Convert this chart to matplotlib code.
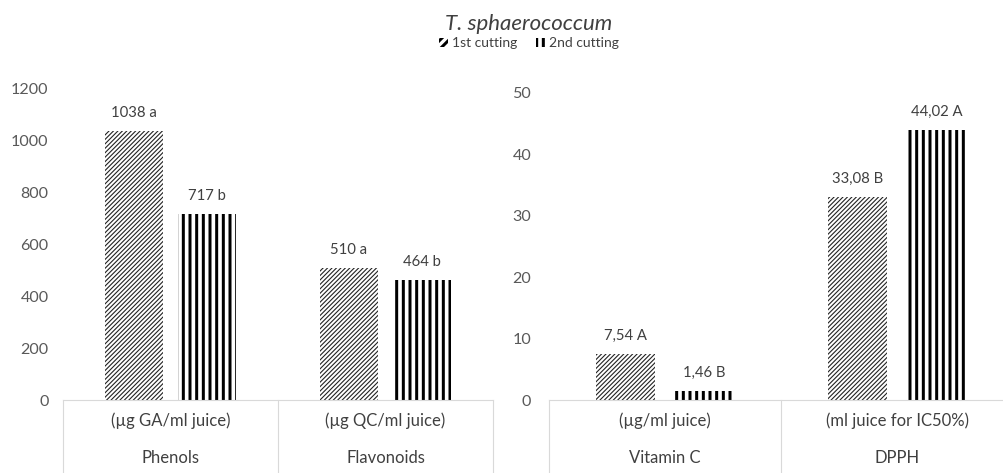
import matplotlib
matplotlib.use('Agg')
import matplotlib.pyplot as plt
import matplotlib.patches as mpatches
from matplotlib.transforms import blended_transform_factory

plt.rcParams['font.family'] = ['Lato', 'DejaVu Sans']

# phenols / flavonoids panel
left_units = ['(µg GA/ml juice)', '(µg QC/ml juice)']
left_names = ['Phenols', 'Flavonoids']
left_first = [1038, 510]
left_second = [717, 464]
left_first_letters = ['a', 'a']
left_second_letters = ['b', 'b']
left_ticks = [0, 200, 400, 600, 800, 1000, 1200]

# vitamin C / DPPH panel
right_units = ['(µg/ml juice)', '(ml juice for IC50%)']
right_names = ['Vitamin C', 'DPPH']
right_first = [7.54, 33.08]
right_second = [1.46, 44.02]
right_first_letters = ['A', 'B']
right_second_letters = ['B', 'A']
right_ticks = [0, 10, 20, 30, 40, 50]

series_names = ['1st cutting', '2nd cutting']

DPI = 80
W, H = 1003, 473
LINE = '#d9d9d9'
TICK = '#595959'
TEXT = '#404040'
HATCHES = ['//////', '||']
LEGEND_HATCHES = ['///', '||']
HATCH_LW = [1.0, 2.7]


def fmt_int(v):
    return '%d' % v


def fmt_comma(v):
    return ('%.2f' % v).replace('.', ',')


def style_bars(bars, k):
    for b in bars:
        b.set_hatch(HATCHES[k])
        try:
            b.set_hatch_linewidth(HATCH_LW[k])
        except AttributeError:
            pass


def draw_panel(ax, units, names, first, second, l1, l2, fmt, ticks, width, gap, pad):
    x = list(range(len(names)))
    off = (width + gap) / 2
    plt.rcParams['hatch.linewidth'] = HATCH_LW[0]
    b1 = ax.bar([i - off for i in x], first, width, facecolor='white',
                edgecolor='#222222', linewidth=0)
    style_bars(b1, 0)
    plt.rcParams['hatch.linewidth'] = HATCH_LW[1]
    b2 = ax.bar([i + off for i in x], second, width, facecolor='white',
                edgecolor='black', linewidth=0)
    style_bars(b2, 1)

    for bars, vals, letters in [(b1, first, l1), (b2, second, l2)]:
        for b, v, let in zip(bars, vals, letters):
            ax.annotate(fmt(v) + ' ' + let, (b.get_x() + b.get_width() / 2, v),
                        xytext=(0, 10), textcoords='offset points',
                        ha='center', va='bottom', fontsize=13.4, color=TEXT)

    ax.set_xlim(-0.5, len(names) - 0.5)
    ax.set_ylim(ticks[0], ticks[-1])
    ax.set_yticks(ticks)
    ax.set_xticks([])
    ax.tick_params(axis='y', length=0, pad=pad, labelsize=14.5, labelcolor=TICK)
    for s in ['top', 'right', 'left']:
        ax.spines[s].set_visible(False)
    ax.spines['bottom'].set_color(LINE)
    ax.spines['bottom'].set_linewidth(1)

    # category table under the axis
    pos = ax.get_position()
    drop = pos.y0 / pos.height
    tr = blended_transform_factory(ax.transData, ax.transAxes)
    for xb in [i - 0.5 for i in range(len(names) + 1)]:
        ax.plot([xb, xb], [0, -drop], transform=tr, color=LINE, lw=1,
                clip_on=False)
    for i in x:
        ax.annotate(units[i], (i, 0), xycoords=tr, xytext=(0, -19),
                    textcoords='offset points', ha='center', va='center',
                    fontsize=15, color=TEXT)
        ax.annotate(names[i], (i, 0), xycoords=tr, xytext=(0, -52),
                    textcoords='offset points', ha='center', va='center',
                    fontsize=15, color=TEXT)
    return b1, b2


fig = plt.figure(figsize=(W / DPI, H / DPI), dpi=DPI)
ax1 = fig.add_axes([63 / W, 73 / H, 430 / W, 311 / H])
ax2 = fig.add_axes([549 / W, 73 / H, 464 / W, 307 / H])

draw_panel(ax1, left_units, left_names, left_first, left_second,
           left_first_letters, left_second_letters, fmt_int,
           left_ticks, 0.27, 0.07, 13)
draw_panel(ax2, right_units, right_names, right_first, right_second,
           right_first_letters, right_second_letters, fmt_comma,
           right_ticks, 0.254, 0.086, 16)

fig.text(529 / W, 1 - 24 / H, 'T. sphaerococcum', ha='center', va='center',
         fontsize=20, style='italic', color=TEXT)

handles = []
for k in range(2):
    plt.rcParams['hatch.linewidth'] = HATCH_LW[k] * (0.8 if k == 0 else 1)
    p = mpatches.Patch(facecolor='white', edgecolor='black', linewidth=0,
                       hatch=LEGEND_HATCHES[k], label=series_names[k])
    handles.append(p)
fig.legend(handles=handles, loc='center', bbox_to_anchor=(529 / W, 1 - 43 / H),
           ncol=2, frameon=False, fontsize=12.5, handlelength=0.6,
           handleheight=0.6, handletextpad=0.3, columnspacing=1.4,
           labelcolor=TEXT)

fig.savefig('out.png', dpi=DPI)
